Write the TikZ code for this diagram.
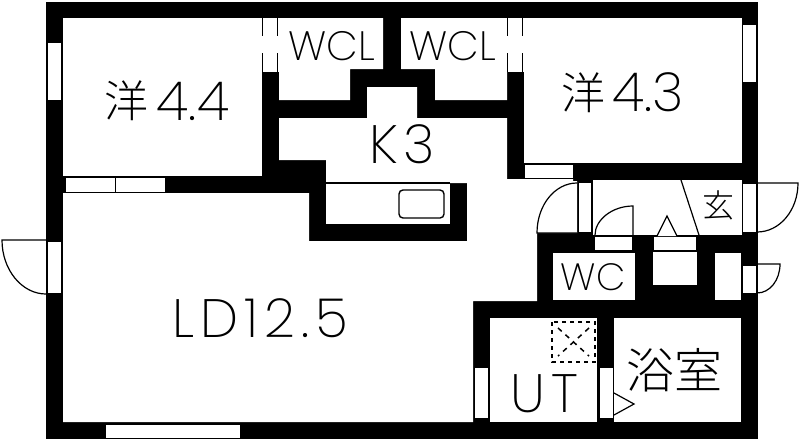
\documentclass[tikz,border=0pt]{standalone}
\usepackage{fontspec}
\newfontfamily\latf{Poppins ExtraLight}
\newfontfamily\lats[LetterSpace=11]{Poppins ExtraLight}
\newfontfamily\cjkf[UprightFont=* Light]{Noto Sans CJK JP}
\tikzset{
  wall/.style={fill=black,draw=none},
  room/.style={fill=white,draw=none},
  thinline/.style={draw=black,line width=1.2pt},
  label/.style={inner sep=0pt,text=black},
}
\begin{document}
\begin{tikzpicture}[x=1pt,y=-1pt]
\useasboundingbox (0,0) rectangle (800,440);
\fill[white] (0,0) rectangle (800,440);
\fill[wall] (46,2) rectangle (758,439);
% rooms
\fill[room] (63,18) rectangle (262,176);
\fill[room] (279,18) -- (383,18) -- (383,69) -- (350,69) -- (350,100) -- (279,100) -- cycle;
\fill[room] (401,18) -- (507,18) -- (507,100) -- (435,100) -- (435,69) -- (401,69) -- cycle;
\fill[room] (524,18) rectangle (742,163);
\fill[room] (63,193) -- (309,193) -- (309,241) -- (467,241) -- (467,183) -- (326,183) -- (326,160) -- (279,160) -- (279,118) -- (367,118) -- (367,87) -- (417,87) -- (417,118) -- (507,118) -- (507,179) -- (573,179) -- (573,181) -- (577,181) -- (577,233) -- (537,233) -- (537,301) -- (473,301) -- (473,422) -- (63,422) -- cycle;
\fill[room] (593,180) rectangle (742,235);
\fill[room] (553,253) rectangle (635,300);
\fill[room] (653,252) rectangle (697,285);
\fill[room] (715,253) rectangle (741,300);
\fill[room] (490,318) rectangle (597,422);
\fill[room] (614,318) rectangle (741,422);
\fill[room] (326,184) rectangle (450,224);
% windows and door frames
\fill[room] (48,43) rectangle (61,100);
\fill[room] (66,178) rectangle (114.5,191.5);
\fill[room] (116,178) rectangle (165,191.5);
\fill[room] (262,18) rectangle (279,72);
\fill[room] (507,18) rectangle (524,72);
\fill[room] (743,25) rectangle (756,82);
\fill[room] (525,165) rectangle (573,178);
\fill[room] (48,242) rectangle (61,293);
\fill[room] (106,425) rectangle (240,437.5);
\fill[room] (578.5,183) rectangle (591,232);
\fill[room] (743,184) rectangle (756,232);
\fill[room] (595,237) rectangle (632,250);
\fill[room] (654,237) rectangle (696,250);
\fill[room] (743,266) rectangle (756,293);
\fill[room] (475,368) rectangle (488,418);
\fill[room] (600,368) rectangle (613,418);
% closet door lines
\draw[thinline] (262.5,18) -- (262.5,36) (277.5,18) -- (277.5,36);
\draw[thinline] (262.5,53) -- (262.5,72) (277.5,53) -- (277.5,72);
\draw[thinline] (507.5,18) -- (507.5,36) (522.5,18) -- (522.5,36);
\draw[thinline] (507.5,53) -- (507.5,72) (522.5,53) -- (522.5,72);
% door swings
\draw[thinline] (46,240) -- (2,240) .. controls (2,270) and (22,294) .. (46,294);
\draw[thinline] (577,183) .. controls (555,183) and (537,205) .. (537,233) -- (577,233);
\draw[thinline] (633,250) -- (633,206) .. controls (612,206) and (595,220) .. (595,235);
\draw[thinline] (757,183) -- (798,183) .. controls (798,210) and (780,232) .. (757,232);
\draw[thinline] (757,264) -- (780,264) .. controls (780,280) and (770,293) .. (757,293);
% entrance step
\draw[thinline] (681,180) -- (699,235);
% triangles
\draw[thinline,fill=white] (657,236) -- (667,216) -- (677,236);
\draw[thinline,fill=white] (614,393) -- (634,404) -- (614,415);
% sink and counter edge
\draw[thinline] (326,183) -- (450,183);
\draw[draw=black,line width=1.4pt,rounded corners=4pt] (399,190) rectangle (444,218);
% washer pan
\draw[draw=black,line width=1.7pt,dash pattern=on 4pt off 4pt] (552,322) rectangle (595,362);
\draw[draw=black,line width=1.5pt,dash pattern=on 5pt off 5pt] (558,328) -- (589,356) (589,328) -- (558,356);
% labels
\node[label,font=\cjkf\fontsize{44}{44}\selectfont] (y1) at (126.5,101) {洋};
\node[label,font=\latf\fontsize{54}{54}\selectfont] (n1) at (193,101) {4.4};
\node[label,font=\cjkf\fontsize{44}{44}\selectfont] (y2) at (583,93) {洋};
\node[label,font=\latf\fontsize{54}{54}\selectfont] (n2) at (648,92) {4.3};
\node[label,font=\latf\fontsize{41}{41}\selectfont] (w1) at (332,46) {WCL};
\node[label,font=\latf\fontsize{41}{41}\selectfont] (w2) at (453,46) {WCL};
\node[label,font=\lats\fontsize{54}{54}\selectfont] (k) at (402,144) {K3};
\node[label,font=\lats\fontsize{54}{54}\selectfont] (ld) at (260.5,318) {LD12.5};
\node[label,font=\latf\fontsize{38}{38}\selectfont] (wc) at (593,277) {WC};
\node[label,font=\lats\fontsize{54}{54}\selectfont] (ut) at (544.5,394) {UT};
\node[label,font=\cjkf\fontsize{48}{48}\selectfont] (bath) at (674,370) {浴室};
\node[label,font=\cjkf\fontsize{32}{32}\selectfont] (gen) at (718,205) {玄};
\end{tikzpicture}
\end{document}
